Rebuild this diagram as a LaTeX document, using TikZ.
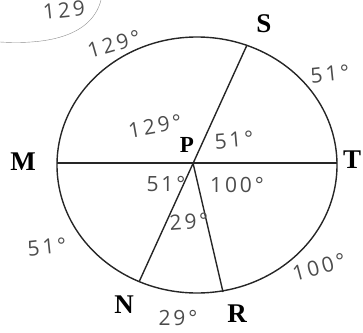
\documentclass[tikz,border=0pt]{standalone}
\usepackage{fontspec}
\setmainfont{Liberation Serif}
\newfontfamily\handfont[LetterSpace=14]{Open Sans}
\usepackage{tikz}
\usetikzlibrary{positioning}

\begin{document}
\begin{tikzpicture}[x=1pt, y=-1pt,
    point/.style={font=\fontsize{27}{27}\selectfont\bfseries},
    angle/.style={font=\handfont\fontsize{21}{21}\selectfont, text=black!70, inner sep=0pt},
    chord/.style={line width=1.4pt, black!85}]
  \useasboundingbox (0,0) rectangle (363,332);

  % circle and chords
  \draw[chord] (197,165) ellipse [x radius=140, y radius=128];
  \coordinate (P) at (193,163);
  \coordinate (M) at (57,163);
  \coordinate (T) at (337,163);
  \coordinate (S) at (247,45);
  \coordinate (N) at (139,282);
  \coordinate (R) at (223,292);
  \draw[chord] (M) -- (T);
  \draw[chord] (S) -- (N);
  \draw[chord] (P) -- (R);

  % point letters
  \node[point] (lblS) at (264,24) {S};
  \node[point] (lblM) at (23,162) {M};
  \node[point] (lblT) at (352,160) {T};
  \node[point, font=\fontsize{23}{23}\selectfont\bfseries] (lblP) at (187,145) {P};
  \node[point] (lblN) at (124,305) {N};
  \node[point] (lblR) at (237,314) {R};

  % pencil notes
  \draw[black!45, thin] (0,42) .. controls (50,45) and (92,35) .. (101,0);
  \node[angle, rotate=6] (note) at (64,10) {129};
  \node[angle, rotate=16] (arcMS) at (114,44) {129°};
  \node[angle, rotate=6] (arcST) at (330,74) {51°};
  \node[angle, rotate=10] (angMPS) at (155,126) {129°};
  \node[angle, rotate=5] (angSPT) at (234,140) {51°};
  \node[angle] (angMPN) at (166,184) {51°};
  \node[angle] (angTPR) at (237,185) {100°};
  \node[angle, rotate=4] (angNPR) at (189,222) {29°};
  \node[angle, rotate=6] (arcMN) at (47,247) {51°};
  \node[angle, rotate=15] (arcTR) at (319,267) {100°};
  \node[angle] (arcNR) at (178,318) {29°};
\end{tikzpicture}
\end{document}
